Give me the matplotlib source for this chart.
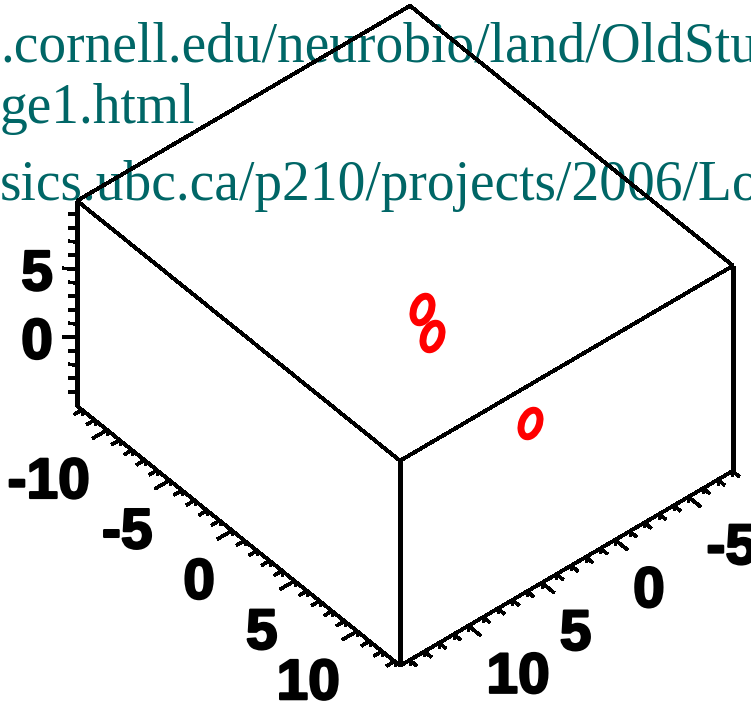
import numpy as np
import matplotlib
matplotlib.use("Agg")
import matplotlib.pyplot as plt
import matplotlib.patheffects as pe
from matplotlib.markers import MarkerStyle
from matplotlib.transforms import Affine2D

# Wertebereiche der Box (x, y, z)
x_bereich = (-12.4, 13.44)
y_bereich = (-8.04, 14.66)
z_bereich = (-5.0, 10.0)

# Messpunkte
punkte_x = [-2.0, -0.5, 7.8]
punkte_y = [0.0, 0.6, 1.0]
punkte_z = [0.5, 0.0, 0.0]

# beschriftete Achsenwerte
x_werte = [-10, -5, 0, 5, 10]
y_werte = [-5, 0, 5, 10]
z_werte = [0, 5]

# Textzeilen im Hintergrund
zeilen = [".cornell.edu/neurobio/land/OldStudentProjects",
          "ge1.html",
          "sics.ubc.ca/p210/projects/2006/Louis"]
zeilen_basis = [62, 123, 200]

# Projektion (orthogonal, Blick schraeg von oben)
ursprung = np.array([447.1, 336.3])
ex = np.array([12.5, 10.06])
ey = np.array([-14.67, 8.59])
ez = np.array([0.0, -13.67])


def proj(x, y, z):
    x, y, z = np.broadcast_arrays(np.asarray(x, float), np.asarray(y, float), np.asarray(z, float))
    px = ursprung[0] + x * ex[0] + y * ey[0] + z * ez[0]
    py = ursprung[1] + x * ex[1] + y * ey[1] + z * ez[1]
    return px, py


def linie(p, q, lw=2.5):
    px, py = proj([p[0], q[0]], [p[1], q[1]], [p[2], q[2]])
    ax.plot(px, py, color="black", lw=lw * 72 / 100, solid_capstyle="butt",
            antialiased=False, zorder=3)


fig = plt.figure(figsize=(7.51, 7.07), dpi=100)
ax = fig.add_axes([0, 0, 1, 1])
ax.set_xlim(0, 751)
ax.set_ylim(707, 0)
ax.axis("off")

# Text
for t, b in zip(zeilen, zeilen_basis):
    ax.text(0, b, t, color="#006666", family=["Liberation Serif", "DejaVu Serif"],
            fontsize=40, ha="left", va="baseline", zorder=1)

x0, x1 = x_bereich
y0, y1 = y_bereich
z0, z1 = z_bereich

# Box: Deckflaeche, drei Kanten senkrecht, zwei Bodenkanten
kanten = [
    ((x0, y0, z1), (x0, y1, z1)),
    ((x0, y1, z1), (x1, y1, z1)),
    ((x1, y1, z1), (x1, y0, z1)),
    ((x1, y0, z1), (x0, y0, z1)),
    ((x0, y1, z0), (x0, y1, z1)),
    ((x1, y1, z0), (x1, y1, z1)),
    ((x1, y0, z0), (x1, y0, z1)),
    ((x0, y1, z0), (x1, y1, z0)),
    ((x1, y1, z0), (x1, y0, z0)),
]
for p, q in kanten:
    senkrecht = p[0] == q[0] and p[1] == q[1]
    linie(p, q, lw=3.2 if senkrecht else 2.8)

# Striche an der x-Achse
for xi in range(int(np.ceil(x0)), int(np.floor(x1)) + 1):
    L = 1.0 if xi % 5 == 0 else 0.55
    linie((xi, y1, z0), (xi, y1 + L, z0), lw=2.6)
    linie((xi, y1, z0), (xi, y1, z0 - 0.35), lw=2.6)

# Striche an der y-Achse
for yi in range(int(np.ceil(y0)), int(np.floor(y1)) + 1):
    L = 1.0 if yi % 5 == 0 else 0.55
    linie((x1, yi, z0), (x1 + L, yi, z0), lw=2.6)
    linie((x1, yi, z0), (x1, yi, z0 - 0.35), lw=2.6)

# Striche an der z-Achse
for zi in range(int(z0) + 1, int(z1)):
    L = 0.52 if zi % 5 == 0 else 0.3
    linie((x0, y1, zi), (x0 - L, y1 + L, zi), lw=2.8)

# Achsenbeschriftung (fett, etwas nachgezogen)
schrift = dict(family=["Liberation Sans", "DejaVu Sans"], fontweight="bold",
               fontsize=41, color="black", textcoords="offset pixels", va="baseline",
               path_effects=[pe.withStroke(linewidth=1.6, foreground="black")])
for v in x_werte:
    ax.annotate(str(v), xy=proj(v, y1, z0), xytext=(-17, -68), ha="right", **schrift)
for v in y_werte:
    ax.annotate(str(v), xy=proj(x1, v, z0), xytext=(18, -67), ha="left", **schrift)
for v in z_werte:
    ax.annotate(str(v), xy=proj(x0, y1, v), xytext=(-40, -21), ha="center", **schrift)

# Punkte
marker = MarkerStyle("o", transform=Affine2D().scale(0.62, 1.0).rotate_deg(-22))
px, py = proj(punkte_x, punkte_y, punkte_z)
ax.plot(px, py, ls="none", marker=marker, markersize=20, markeredgewidth=5,
        markeredgecolor="#ff0000", markerfacecolor="white", zorder=4)

fig.savefig("out.png", dpi=100)
